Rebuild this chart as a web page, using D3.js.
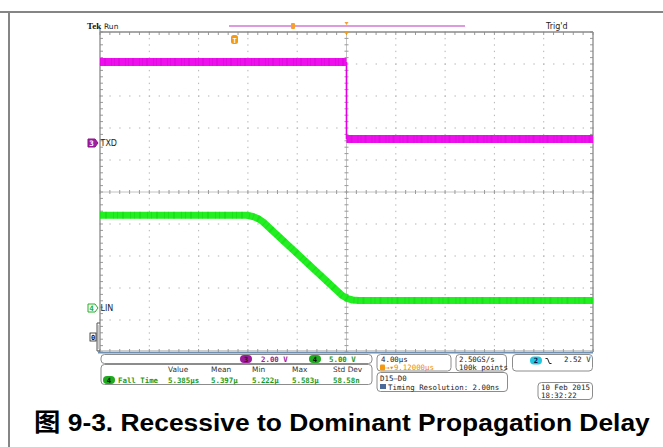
<!DOCTYPE html>
<html><head><meta charset="utf-8">
<script src="https://cdn.jsdelivr.net/npm/d3@7"></script>
<style>body{margin:0;background:#fff}svg{display:block}</style>
</head><body>
<svg id="c" width="663" height="447"></svg>
<script>
// ---- data (time in µs relative to trigger, volts) ----
const txdTime  = [-20, 0, 0, 20];
const txdVolts = [5.06, 5.06, 0.25, 0.25];
const linTime  = [-20, -8.1, -7.6, -7.2, -6.8, -0.35, 0.1, 0.5, 1.0, 20];
const linVolts = [14.5, 14.5, 14.3, 14.0, 13.5, 1.95, 1.45, 1.25, 1.17, 1.17];
const chNames  = ["TXD", "LIN"];
const chScaleLabels = ["2.00 V", "5.00 V"];
const measHeaders = ["Value", "Mean", "Min", "Max", "Std Dev"];
const measValues  = ["5.385µs", "5.397µ", "5.222µ", "5.583µ", "58.58n"];
const measName = "Fall Time";
const timeDivLabel = "4.00µs";
const delayLabel = "→▾9.12000µs";
const sampleLabels = ["2.50GS/s", "100k points"];
const trigLabel = "2.52 V";
const digitalLabels = ["D15–D0", "Timing Resolution: 2.00ns"];
const dateLabels = ["10 Feb  2015", "18:32:22"];
const title = "图 9-3. Recessive to Dominant Propagation Delay";

const svg = d3.select("#c");
const x = d3.scaleLinear().domain([-20, 20]).range([100, 593]);
const y = d3.scaleLinear().domain([-5, 5]).range([352, 32]);
const ch3 = v => y(v / 2 + 1.53125);   // 2 V/div, ground marker
const ch4 = v => y(v / 5 - 3.625);     // 5 V/div

const MONO = "'DejaVu Sans Mono', monospace";
const SANS = "'DejaVu Sans', sans-serif";

// page border lines
svg.append("line").attr("x1",0).attr("x2",663).attr("y1",12).attr("y2",12).attr("stroke","#858585").attr("stroke-width",2);
svg.append("line").attr("x1",9).attr("x2",9).attr("y1",12).attr("y2",447).attr("stroke","#858585").attr("stroke-width",2);

// ---- graticule ----
const g = svg.append("g");
const xMaj = d3.range(-20, 20.001, 4);
const yMaj = d3.range(-5, 5.001, 1);
const xMin = d3.range(-20, 20.001, 0.8);
const yMin = d3.range(-5, 5.001, 0.2);
xMaj.filter(t => Math.abs(t) > 0.01 && Math.abs(Math.abs(t) - 20) > 0.01).forEach(t => {
  yMin.forEach(v => g.append("rect").attr("x", x(t) - 0.5).attr("y", y(v) - 0.5).attr("width", 1).attr("height", 1.4).attr("fill", "#b4b4b4"));
});
yMaj.filter(v => Math.abs(v) > 0.01 && Math.abs(Math.abs(v) - 5) > 0.01).forEach(v => {
  xMin.forEach(t => g.append("rect").attr("x", x(t) - 0.5).attr("y", y(v) - 0.5).attr("width", 1.4).attr("height", 1).attr("fill", "#b4b4b4"));
});
g.append("line").attr("x1", x(0)).attr("x2", x(0)).attr("y1", y(5)).attr("y2", y(-5)).attr("stroke", "#c4c4c4").attr("stroke-width", 1);
g.append("line").attr("x1", x(-20)).attr("x2", x(20)).attr("y1", y(0)).attr("y2", y(0)).attr("stroke", "#c4c4c4").attr("stroke-width", 1);
yMin.forEach(v => g.append("line").attr("x1", x(0) - 2).attr("x2", x(0) + 2).attr("y1", y(v)).attr("y2", y(v)).attr("stroke", "#9a9a9a"));
xMin.forEach(t => g.append("line").attr("x1", x(t)).attr("x2", x(t)).attr("y1", y(0) - 2).attr("y2", y(0) + 2).attr("stroke", "#9a9a9a"));
xMin.forEach(t => {
  g.append("line").attr("x1", x(t)).attr("x2", x(t)).attr("y1", y(5)).attr("y2", y(5) + 3).attr("stroke", "#9a9a9a");
  g.append("line").attr("x1", x(t)).attr("x2", x(t)).attr("y1", y(-5)).attr("y2", y(-5) - 3).attr("stroke", "#9a9a9a");
});
yMin.forEach(v => {
  g.append("line").attr("x1", x(20)).attr("x2", x(20) - 3).attr("y1", y(v)).attr("y2", y(v)).attr("stroke", "#9a9a9a");
  g.append("line").attr("x1", x(-20)).attr("x2", x(-20) + 3).attr("y1", y(v)).attr("y2", y(v)).attr("stroke", "#9a9a9a");
});
g.append("line").attr("x1", x(-20)).attr("x2", x(20)).attr("y1", y(5)).attr("y2", y(5)).attr("stroke", "#8a8a8a").attr("stroke-width", 1.3);
g.append("line").attr("x1", x(20)).attr("x2", x(20)).attr("y1", y(5)).attr("y2", y(-5)).attr("stroke", "#8a8a8a").attr("stroke-width", 1.3);
g.append("line").attr("x1", x(-20)).attr("x2", x(-20)).attr("y1", y(5) - 4).attr("y2", y(-5)).attr("stroke", "#8a8a8a").attr("stroke-width", 1.3);
g.append("line").attr("x1", x(-20) - 2).attr("x2", x(20)).attr("y1", y(-5) - 1).attr("y2", y(-5) - 1).attr("stroke", "#9a9a9a").attr("stroke-width", 1);
g.append("line").attr("x1", x(-20) - 2).attr("x2", x(20)).attr("y1", y(-5) + 0.8).attr("y2", y(-5) + 0.8).attr("stroke", "#6f8fb3").attr("stroke-width", 1.6);

// ---- waveforms ----
// TXD: thick noisy flat levels, thin vertical edge
const seg = d3.line().x(d => x(d[0])).y(d => ch3(d[1]));
const txdPts = txdTime.map((t, i) => [t, txdVolts[i]]);
const txdFlats = [];
for (let i = 0; i < txdPts.length - 1; i++) {
  const a = txdPts[i], b = txdPts[i + 1];
  if (a[0] === b[0]) {
    svg.append("path").attr("d", seg([a, b])).attr("stroke", "#e000e0").attr("stroke-width", 1.6).attr("fill", "none");
  } else txdFlats.push([a, b]);
}
txdFlats.forEach(s => {
  svg.append("path").attr("d", seg(s)).attr("fill", "none").attr("stroke", "#ee11ee").attr("stroke-width", 8);
  svg.append("path").attr("d", seg(s)).attr("fill", "none").attr("stroke", "#c800c8").attr("stroke-width", 8)
    .attr("stroke-dasharray", "1 3 2 5 1 2").attr("opacity", 0.3);
});
const lineLin = d3.line().x(i => x(linTime[i])).y(i => ch4(linVolts[i]));
svg.append("path").attr("d", lineLin(d3.range(linTime.length))).attr("fill", "none")
  .attr("stroke", "#22ee22").attr("stroke-width", 7).attr("stroke-linejoin", "round");
svg.append("path").attr("d", lineLin(d3.range(linTime.length))).attr("fill", "none")
  .attr("stroke", "#00c000").attr("stroke-width", 7).attr("stroke-dasharray", "1 4 2 6 1 3").attr("opacity", 0.25);

// ---- channel markers ----
function marker(yc, fill, stroke, txt, txtColor) {
  const p = `M88,${yc-4}H95L98,${yc}L95,${yc+4}H88Z`;
  svg.append("path").attr("d", p).attr("fill", fill).attr("stroke", stroke).attr("stroke-width", 1);
  svg.append("text").attr("x", 91.5).attr("y", yc + 3).attr("text-anchor", "middle").attr("font-family", MONO)
    .attr("font-size", 7.5).attr("font-weight", "bold").attr("fill", txtColor).text(txt);
}
marker(ch3(0), "#a020a0", "#8a108a", "3", "#ffffff");
marker(ch4(0), "#ffffff", "#22b022", "4", "#22b022");
svg.append("text").attr("x", 100.5).attr("y", ch3(0) + 3).attr("font-family", SANS).attr("font-size", 8).attr("fill", "#222").text(chNames[0]);
svg.append("text").attr("x", 100.5).attr("y", ch4(0) + 3).attr("font-family", SANS).attr("font-size", 8).attr("fill", "#222").text(chNames[1]);
svg.append("path").attr("d", "M100,323H97V351H100").attr("fill", "none").attr("stroke", "#555").attr("stroke-width", 1);
svg.append("path").attr("d", "M98,325V349").attr("fill", "none").attr("stroke", "#999").attr("stroke-width", 1);
svg.append("rect").attr("x", 90).attr("y", 333).attr("width", 6).attr("height", 8).attr("fill", "#fff").attr("stroke", "#222").attr("stroke-width", 0.8);
svg.append("text").attr("x", 93).attr("y", 340).attr("text-anchor", "middle").attr("font-family", MONO).attr("font-size", 7).attr("font-weight", "bold").attr("fill", "#111").text("0");

// ---- top status ----
svg.append("text").attr("x", 87).attr("y", 29).attr("font-family", "'Liberation Serif', serif").attr("font-size", 9).attr("font-weight", "bold").attr("fill", "#111").text("Tek");
svg.append("text").attr("x", 104).attr("y", 29).attr("font-family", SANS).attr("font-size", 7.5).attr("fill", "#222").text("Run");
svg.append("text").attr("x", 546).attr("y", 29).attr("font-family", SANS).attr("font-size", 8).attr("fill", "#222").text("Trig'd");
svg.append("line").attr("x1", 229).attr("x2", 465).attr("y1", 26).attr("y2", 26).attr("stroke", "#d27ad2").attr("stroke-width", 1.3);
svg.append("rect").attr("x", 291).attr("y", 23).attr("width", 4).attr("height", 6).attr("rx", 1).attr("fill", "#f5a030");
svg.append("path").attr("d", `M${x(0)-2},22H${x(0)+2}L${x(0)},25Z`).attr("fill", "#f5a030");
svg.append("path").attr("d", `M${x(0)-3},31H${x(0)+3}L${x(0)},35Z`).attr("fill", "#f59a10");
svg.append("rect").attr("x", 231).attr("y", 35).attr("width", 7).attr("height", 9).attr("rx", 2.5).attr("fill", "#f59a10");
svg.append("text").attr("x", 234.5).attr("y", 42.5).attr("text-anchor", "middle").attr("font-family", MONO).attr("font-size", 7).attr("font-weight", "bold").attr("fill", "#fff").text("T");

// ---- bottom panels ----
function box(x0, y0, w, h) {
  svg.append("rect").attr("x", x0).attr("y", y0).attr("width", w).attr("height", h).attr("rx", 3.5)
    .attr("fill", "#fff").attr("stroke", "#8c8c8c").attr("stroke-width", 1);
}
function txt(xx, yy, s, color, opts = {}) {
  return svg.append("text").attr("x", xx).attr("y", yy).attr("font-family", opts.family || MONO)
    .attr("font-size", opts.size || 7.4).attr("font-weight", opts.weight || "normal")
    .attr("fill", color).attr("text-anchor", opts.anchor || "start").text(s);
}
function oval(cx, cy, fill, s, color) {
  svg.append("rect").attr("x", cx - 6).attr("y", cy - 4).attr("width", 12).attr("height", 8).attr("rx", 4).attr("fill", fill);
  txt(cx, cy + 2.7, s, color, { anchor: "middle", weight: "bold", size: 7.2 });
}
box(101, 354.5, 271, 9);
oval(246, 359, "#9a1a9a", "3", "#222");
txt(261, 362, chScaleLabels[0], "#a020a0", { weight: "bold" });
oval(315, 359, "#1faa1f", "4", "#111");
txt(329, 362, chScaleLabels[1], "#1a9a1a", { weight: "bold" });

box(101, 364.5, 271, 20);
const colX = [168, 211, 252, 292, 333];
measHeaders.forEach((h, i) => txt(colX[i], 372, h, "#333", { family: SANS, size: 7.4 }));
oval(109, 380, "#1faa1f", "4", "#111");
txt(118, 382.5, measName, "#1a9a1a", { weight: "bold" });
measValues.forEach((v, i) => txt(colX[i], 382.5, v, "#1a9a1a", { weight: "bold" }));

box(377, 354.5, 74, 16.5);
txt(381, 362, timeDivLabel, "#222");
svg.append("rect").attr("x", 380).attr("y", 364.5).attr("width", 5).attr("height", 6).attr("rx", 1).attr("fill", "#f59a10");
txt(385, 370, delayLabel, "#f08a00");
box(456, 354.5, 50.5, 16.5);
txt(459, 362, sampleLabels[0], "#222");
txt(459, 370, sampleLabels[1], "#222");
box(512.5, 354.5, 80, 16.5);
svg.append("rect").attr("x", 530).attr("y", 356.5).attr("width", 12).attr("height", 8).attr("rx", 4).attr("fill", "#22c8e0");
txt(536, 363.2, "2", "#114", { anchor: "middle", weight: "bold", size: 7.2 });
svg.append("path").attr("d", "M545.5,358.5H547.5L549.5,363.5H551.5").attr("fill", "none").attr("stroke", "#222").attr("stroke-width", 1);
txt(564, 362, trigLabel, "#222");
box(377, 372.5, 130.5, 19);
txt(380, 380.5, digitalLabels[0], "#222");
svg.append("rect").attr("x", 380).attr("y", 384).attr("width", 6).attr("height", 5).attr("fill", "#4a6a9a");
txt(388, 389.5, digitalLabels[1], "#222");
box(538, 382.5, 54.5, 17);
txt(541, 390, dateLabels[0], "#222");
txt(541, 398, dateLabels[1], "#222");

// ---- title (condensed bold, fitted to the reference width) ----
const tt = svg.append("text").attr("x", 0).attr("y", 0)
  .attr("font-family", "'Liberation Sans', 'Noto Sans CJK SC', sans-serif").attr("font-weight", "bold")
  .attr("font-size", 24.5).attr("fill", "#000").text(title);
const w0 = tt.node().getComputedTextLength();
tt.attr("transform", `translate(34,431) scale(${616 / w0},1)`);
</script>
</body></html>
